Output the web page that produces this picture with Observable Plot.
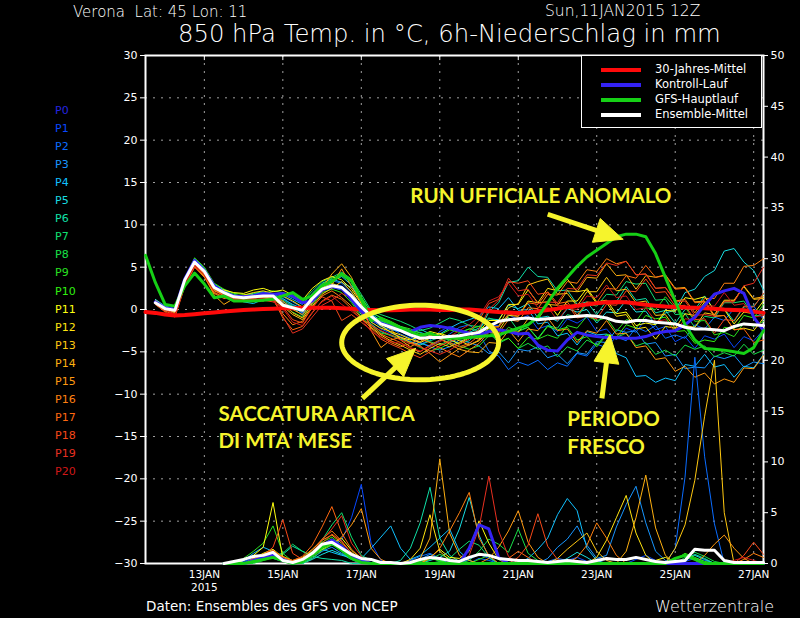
<!DOCTYPE html>
<html><head><meta charset="utf-8">
<script src="https://cdn.jsdelivr.net/npm/d3@7"></script>
<script src="https://cdn.jsdelivr.net/npm/@observablehq/plot@0.6"></script>
<style>
html,body{margin:0;padding:0;background:#000;}
#wrap{position:relative;width:800px;height:618px;background:#000;overflow:hidden;font-family:"DejaVu Sans",sans-serif;color:#fff;}
.t{position:absolute;white-space:pre;line-height:1;transform:translateY(-50%);}
.lg{position:absolute;height:4px;width:40px;left:601px;}
</style></head><body><div id="wrap"></div>
<script>
// ---------- DATA ----------
// time axis: 6-hourly steps from 11 JAN 2015 12Z (t=0)
const runStart = "2015-01-11T12:00Z";
const xEnd = "2015-01-27T06:00Z";
const gridDays = ["2015-01-13","2015-01-15","2015-01-17","2015-01-19","2015-01-21","2015-01-23","2015-01-25","2015-01-27"];
const tempTicks = [-30,-25,-20,-15,-10,-5,0,5,10,15,20,25,30];
const gridTemps = [-25,-20,-15,-10,-5,0,5,10,15,20,25];
const rainTicks = [0,5,10,15,20,25,30,35,40,45,50];

const memberNames = ["P1","P2","P3","P4","P5","P6","P7","P8","P9","P10","P11","P12","P13","P14","P15","P16","P17","P18","P19","P20"];
const memberColors = ["#0848ff","#0a6cff","#1896ff","#10c0ff","#18dde0","#10e0a8","#10e070","#18e048","#28e020","#30f010","#ffff10","#ffe410","#ffc810","#ffb010","#ff9a10","#ff8010","#ff6810","#f84818","#e83020","#d01818"];
const labelNames = ["P0"].concat(memberNames);
const labelColors = ["#2424e0"].concat(memberColors);

// 850 hPa temperature (°C); thick lines
const T_CLIM = [-0.3,-0.4,-0.6,-0.7,-0.65,-0.55,-0.45,-0.35,-0.25,-0.15,-0.05,0,0.05,0.1,0.15,0.15,0.2,0.2,0.2,0.2,0.15,0.1,0,-0.05,-0.1,-0.1,-0.05,0,0,0,-0.05,-0.05,0,0,-0.1,-0.2,-0.3,-0.35,-0.4,-0.35,-0.2,-0.05,0.1,0.3,0.45,0.6,0.75,0.85,0.9,0.85,0.7,0.55,0.45,0.35,0.3,0.25,0.2,0.15,0.1,0,-0.05,-0.1,-0.25,-0.4]; // t0..
const T_GFS = [6.4,3.2,0.6,0.4,2.8,4.3,3.0,1.4,1.6,1.0,1.0,1.0,1.1,1.2,1.6,2.0,1.2,1.6,2.8,3.3,4.2,3.4,1.2,-1.3,-1.1,-1.6,-2.2,-2.6,-3.1,-2.8,-3.3,-3.4,-3.4,-3.3,-3.2,-3.1,-3.0,-2.6,-2.2,-1.8,-0.9,0.8,2.5,3.8,5.1,6.2,7.0,7.8,8.6,8.9,8.9,8.6,6.6,3.8,1.0,-1.8,-3.6,-4.6,-4.7,-4.8,-5.0,-5.2,-4.5,-2.5]; // t0..
const T_CTRL = [0.9,0.2,0.0,3.6,5.8,4.6,2.8,2.0,1.6,1.5,1.6,1.9,1.8,1.9,1.6,0.8,1.0,2.3,2.7,2.5,1.2,-0.2,-1.2,-1.6,-2.0,-2.3,-2.6,-2.1,-1.9,-2.0,-2.2,-2.5,-2.8,-3.0,-2.6,-2.4,-2.6,-2.9,-2.8,-4.2,-4.8,-4.9,-3.6,-2.7,-3.0,-3.2,-3.3,-3.3,-3.4,-3.4,-3.2,-2.8,-2.6,-2.5,-1.8,-0.9,0.5,1.8,2.2,2.5,1.9,-0.9,-2.5]; // t1..
const T_MEAN = [0.8,0.1,-0.1,3.5,5.6,4.5,2.6,2.0,1.5,1.4,1.5,1.6,1.6,0.5,0.2,-0.1,1.3,2.4,2.8,2.6,1.6,0.3,-0.8,-1.7,-2.1,-2.5,-3.0,-3.4,-3.3,-3.3,-3.2,-3.1,-2.9,-2.7,-2.0,-1.4,-1.2,-1.1,-1.0,-1.2,-1.1,-1.0,-0.9,-0.8,-0.7,-0.8,-1.0,-1.4,-1.5,-1.3,-1.3,-1.5,-1.6,-1.7,-2.1,-2.3,-2.3,-2.4,-2.5,-2.0,-1.7,-1.8,-1.9]; // t1..

// 850 hPa temperature (°C); ensemble members, t1..t63
const T_P1 = [0.9,0.2,-0.1,3.5,5.8,4.7,2.7,2.1,1.6,1.3,1.6,1.8,1.4, 1.2,0.5,-0.5,1.0,2.6,3.0,2.8,1.4,-0.3, -1.4,-2.3,-2.8,-3.2,-3.8,-4.1,-3.6,-2.6,-2.0,-2.4,-3.0, -2.6,-1.8,-1.9,-0.6,-1.2,-0.7,-2.3,-1.9,-2.6,-1.1,-1.6,-0.9,-2.6,-2.3,-3.6,-2.2,-2.7,-1.1,-2.4,-2.0,-3.8,-3.2,-4.6,-3.1,-3.5,-2.9,-4.5,-3.2,-3.7,-2.4];
const T_P2 = [0.7,0.0,-0.3,3.2,5.5,4.4,2.4,1.9,1.4,1.5,1.3,1.5,1.7, 1.5,0.9,0.2,1.6,2.9,3.4,3.1,2.0,0.5, -0.6,-1.5,-2.2,-2.9,-3.4,-4.0,-4.3,-3.7,-2.9,-2.1,-1.8, -2.8,-4.9,-5.5,-7.1,-6.2,-6.6,-6.0,-7.1,-6.3,-6.7,-5.2,-5.5,-4.1,-4.5,-3.2,-3.7,-2.1,-2.6,-1.9,-3.4,-3.0,-3.4,-1.8,-2.3,-0.9,-1.3,0.1,-0.3,0.4,-1.2];
const T_P3 = [1.1,0.3,0.0,3.6,5.7,4.6,2.8,2.2,1.5,1.2,1.4,1.9,1.5, 0.9,0.3,-0.4,0.8,2.2,2.6,2.3,1.2,0.1, -1.2,-2.0,-2.4,-2.6,-3.2,-3.9,-4.4,-4.8,-4.4,-3.6,-3.9, -4.3,-5.2,-5.0,-6.3,-4.7,-4.9,-4.4,-5.7,-5.3,-6.4,-5.1,-5.3,-3.8,-3.9,-2.4,-2.7,-2.5,-4.1,-3.9,-5.5,-5.3,-7.0,-6.8,-6.9,-5.5,-5.8,-5.4,-6.8,-6.2,-6.4];
const T_P4 = [0.6,-0.1,-0.4,3.0,5.3,4.2,2.3,1.7,1.3,0.9,0.7,1.2,1.8, 1.8,1.2,0.6,1.9,3.1,3.6,3.2,2.6,1.4, -0.3,-1.0,-1.6,-2.0,-2.5,-2.7,-3.1,-2.9,-2.2,-1.6,-1.2, -0.8,0.3,0.1,1.4,-0.1,0.0,-1.7,-1.5,-3.1,-2.8,-4.2,-2.6,-3.0,-2.9,-5.2,-5.7,-7.9,-7.8,-8.6,-8.1,-8.4,-6.5,-6.7,-5.3,-6.8,-6.5,-8.0,-6.7,-6.9,-5.3];
const T_P5 = [1.2,0.4,0.1,3.7,6.0,4.9,3.0,2.3,1.7,1.6,1.8,2.0,1.7, 1.3,0.6,0.1,1.4,2.7,3.3,3.9,2.9,0.9, -0.5,-1.3,-1.9,-2.4,-2.8,-2.3,-2.9,-3.5,-3.9,-3.4,-2.7, -2.2,-1.1,-1.2,0.5,0.1,0.7,-1.0,-0.8,-1.4,0.1,-0.3,0.0,-1.6,-0.3,-0.4,1.1,-0.3,-0.2,-1.8,-0.4,-0.1,2.0,2.4,3.9,4.6,6.9,7.2,5.6,4.6,2.3];
const T_P6 = [0.8,0.0,-0.2,3.3,5.6,4.5,2.5,1.8,1.6,1.4,1.5,1.4,1.3, 0.7,0.2,-0.7,0.9,2.3,2.8,2.4,1.0,-0.6, -1.7,-2.6,-3.1,-3.5,-3.8,-4.2,-3.7,-3.3,-3.6,-4.0,-3.7, -2.6,-0.3,0.8,3.2,3.4,5.0,3.9,3.8,2.2,2.3,0.6,0.9,-0.6,1.0,0.9,2.7,1.1,1.3,-0.4,-0.1,-1.6,0.0,0.0,1.6,-0.1,0.1,-1.4,0.3,0.4,1.8];
const T_P7 = [0.9,0.1,-0.3,3.4,5.7,4.8,2.9,2.0,1.4,1.7,1.9,2.1,1.8, 1.9,1.4,0.9,2.2,3.3,3.8,4.4,3.6,1.8, -0.1,-0.6,-1.0,-1.4,-1.9,-2.5,-2.2,-1.6,-1.0,-1.3,-1.9, -2.0,-1.0,-1.4,-0.9,-2.5,-2.1,-3.4,-1.9,-2.2,-0.6,-0.9,0.7,0.4,1.8,1.7,3.3,3.0,3.1,1.1,1.2,-0.6,-0.5,-2.1,-0.8,-1.0,0.8,0.8,1.0,-0.8,-0.6];
const T_P8 = [1.0,0.2,0.0,3.5,5.9,4.7,2.6,2.1,1.8,1.5,1.4,1.6,1.9, 1.1,0.4,-0.2,1.3,2.8,3.5,4.0,3.2,1.1, -0.8,-1.4,-1.8,-2.1,-2.6,-3.2,-3.8,-4.2,-3.6,-2.8,-2.3, -2.5,-2.5,-4.0,-3.4,-4.6,-4.0,-4.7,-4.3,-5.6,-4.4,-4.9,-3.6,-4.2,-2.9,-3.3,-2.8,-4.3,-3.9,-5.3,-4.8,-5.5,-4.2,-4.7,-4.3,-5.6,-5.1,-5.5,-4.1,-5.3,-4.8];
const T_P9 = [0.7,0.1,-0.2,3.1,5.4,4.3,2.4,1.6,1.5,1.3,1.2,1.7,1.6, 0.5,-0.3,-0.9,0.6,2.0,2.4,2.0,0.8,-0.9, -1.9,-2.8,-3.0,-3.4,-3.9,-4.5,-4.9,-4.6,-4.0,-4.3,-4.7, -4.3,-3.1,-3.4,-2.1,-2.6,-2.1,-3.5,-3.0,-3.4,-1.9,-2.2,-0.8,-1.3,-1.0,-2.6,-1.2,-1.4,0.2,0.0,1.5,0.2,0.3,-1.4,-1.3,-3.0,-2.7,-3.2,-1.6,-2.0,-1.4];
const T_P10 = [0.9,0.0,-0.1,3.6,6.1,5.0,3.1,2.4,1.9,1.8,1.6,1.9,2.2, 2.0,1.5,0.8,1.8,3.0,3.7,4.1,3.3,1.5, -0.4,-0.9,-1.4,-2.0,-2.3,-2.8,-3.3,-3.0,-2.4,-2.7,-2.3, -2.0,-2.3,-3.8,-3.4,-4.6,-3.3,-3.5,-2.0,-2.4,-2.1,-3.6,-3.2,-4.4,-3.0,-3.3,-1.8,-2.2,-0.7,-1.1,-0.9,-2.6,-2.5,-4.0,-3.6,-3.8,-2.1,-2.3,-0.7,-1.0,0.6];
const T_P11 = [1.1,0.3,-0.2,3.3,5.5,4.4,2.6,2.3,2.0,1.9,2.3,2.5,2.1, 2.3,1.7,1.1,2.5,3.4,3.9,3.5,2.4,0.7, -1.0,-1.9,-2.7,-3.3,-3.6,-3.2,-2.6,-2.9,-3.5,-4.1,-3.3, -2.6,-1.3,-1.3,0.6,0.6,2.3,0.8,0.9,-0.7,1.0,1.0,2.5,0.9,1.1,-0.5,-0.3,-1.9,-1.6,-1.8,-0.1,-0.2,1.4,1.2,1.5,-0.1,0.0,-1.7,-0.3,-0.5,1.0];
const T_P12 = [0.8,0.1,-0.4,3.0,5.2,4.1,2.2,1.8,1.6,1.7,2.0,2.2,1.9, 1.6,1.0,0.3,1.5,2.6,3.1,2.6,1.7,0.2, -1.5,-2.2,-2.6,-3.0,-3.5,-3.9,-3.4,-2.8,-3.2,-3.7,-4.2, -3.7,-2.5,-2.5,-0.7,-0.8,1.0,0.8,2.5,2.2,3.6,2.1,2.3,0.7,0.8,-0.8,-0.6,-2.3,-2.1,-3.5,-2.0,-2.2,-0.5,-0.7,0.9,-0.8,-0.7,-2.4,-2.2,-2.5,-1.0];
const T_P13 = [0.6,-0.2,-0.5,2.9,5.1,3.9,2.0,1.5,1.2,1.0,1.1,1.3,1.2, 0.4,-0.6,-1.2,0.4,1.8,2.5,3.3,2.1,0.3, -2.1,-3.0,-3.7,-4.2,-4.8,-5.3,-4.6,-4.0,-4.4,-3.9,-3.2, -3.5,-2.2,-2.0,0.2,0.7,2.9,3.3,3.6,1.8,1.9,0.4,2.1,2.1,3.8,2.2,2.4,0.8,1.0,-0.7,-0.6,-2.2,-1.9,-2.1,-0.4,-0.6,1.1,1.1,2.7,1.2,1.3];
const T_P14 = [0.9,0.0,-0.6,3.2,5.4,4.0,1.7,0.6,1.3,1.4,1.2,1.0,1.5, 0.8,-0.4,-1.0,0.7,2.5,4.2,5.4,3.8,1.2, -0.9,-1.6,-2.3,-3.6,-4.4,-3.8,-3.0,-3.4,-4.1,-4.7,-5.0, -5.1,-3.9,-4.0,-2.5,-2.7,-1.1,-1.2,0.6,0.5,2.2,2.1,3.8,3.7,5.4,4.0,4.1,2.4,4.0,3.8,4.1,2.5,2.6,0.9,1.0,-0.7,1.0,1.0,2.8,1.3,1.5];
const T_P15 = [1.0,0.2,-0.3,3.4,5.6,4.6,2.5,1.9,1.6,1.3,1.6,1.8,1.6, 1.0,0.0,-0.6,0.9,2.1,2.9,4.8,2.7,0.8, -2.5,-4.5,-3.6,-3.3,-3.9,-4.3,-5.2,-6.2,-5.4,-4.6,-4.2, -3.6,-2.5,-2.9,-2.4,-3.8,-2.3,-2.5,-1.0,-2.5,-2.3,-3.9,-2.5,-2.8,-1.3,-2.9,-2.8,-4.5,-4.3,-5.9,-5.7,-7.3,-6.7,-8.0,-7.5,-8.8,-8.2,-8.6,-6.9,-7.0,-5.4];
const T_P16 = [0.7,-0.1,-0.8,2.8,5.0,3.8,1.9,1.3,1.5,1.6,1.7,1.4,1.1, -0.5,-1.8,-1.4,0.2,1.6,2.2,1.4,0.4,-1.0, -2.2,-3.2,-3.9,-4.4,-4.0,-3.5,-3.9,-4.5,-5.1,-5.6,-4.8, -4.0,-2.7,-2.8,-1.2,-1.4,0.2,0.1,1.8,1.7,3.3,3.1,4.7,4.5,6.0,5.4,5.7,4.1,4.2,2.5,2.6,1.0,1.2,-0.4,1.3,1.3,3.1,3.1,5.1,5.2,6.0];
const T_P17 = [0.8,0.0,-0.7,3.1,5.3,4.2,2.3,1.6,1.1,1.2,1.4,1.5,1.3, -1.0,-2.4,-2.0,-0.4,1.0,1.7,1.2,0.1,-1.2, -1.8,-2.9,-3.4,-3.9,-4.6,-5.0,-4.2,-3.6,-3.9,-4.4,-4.0, -3.1,-1.9,-2.1,-0.5,-0.8,0.8,0.6,2.1,0.7,0.9,-0.7,0.9,0.8,2.5,2.4,4.0,3.7,5.2,3.8,4.0,2.4,2.5,0.8,0.9,-0.8,-0.7,-2.4,-2.3,-3.9,-3.6];
const T_P18 = [0.6,-0.3,-0.9,2.7,5.0,4.1,2.4,1.8,1.3,1.1,1.3,1.1,0.9, 0.3,-1.2,-1.6,0.3,1.5,1.0,-1.3,-0.6,-1.5, -2.4,-3.5,-4.1,-4.6,-5.2,-5.7,-5.0,-4.3,-3.8,-3.4,-2.6, -1.3,0.7,1.2,3.3,3.1,3.4,1.8,2.0,0.4,0.6,-1.0,-0.8,-1.1,0.6,0.5,2.2,2.1,3.6,2.0,2.1,0.4,0.5,-1.2,-1.1,-2.8,-1.2,-1.3,0.4,0.3,1.9];
const T_P19 = [0.9,0.1,-0.5,3.0,5.3,4.3,2.6,1.7,1.4,1.5,1.5,1.7,1.4, -0.8,-2.8,-2.3,-0.9,0.5,1.1,1.9,1.3,-0.4, -1.9,-2.5,-3.0,-3.6,-4.0,-4.4,-4.9,-5.3,-4.8,-4.1,-3.5, -2.3,0.0,1.1,3.7,2.2,2.4,0.7,0.9,0.8,2.5,2.4,4.1,4.0,5.5,5.2,5.7,4.1,4.2,2.5,2.6,0.9,1.0,-0.7,-0.6,-0.8,0.9,0.9,2.8,3.1,5.0];
const T_P20 = [0.7,-0.1,-0.6,2.9,5.2,4.0,2.1,1.5,1.2,1.3,1.2,1.3,1.0, 0.1,-1.5,-1.9,-0.3,0.9,1.6,0.6,-0.2,-1.1, -2.6,-3.3,-3.8,-4.0,-4.5,-4.9,-4.4,-3.8,-3.2,-2.5,-1.8, -0.8,1.0,1.5,3.1,1.6,1.8,0.2,0.3,-1.3,0.2,0.0,1.6,1.4,2.9,1.4,1.6,0.0,0.2,-1.4,-1.2,-2.7,-1.1,-1.2,0.5,0.4,2.0,0.5,0.7,-0.9,-0.7];

// 6h precipitation (mm), t8..t63
const R_GFS  = [0,0,0,0.2,0.4,0.6,0.3,0, 0.2,0.8,1.6,2.0,1.3,0.5,0.1,0, 0,0,0,0,0,0,0,0, 0,0,0,0,0,0,0,0, 0,0,0,0,0,0,0,0, 0,0,0,0,0,0,0.5,0.8, 0.4,0,0,0,0,0,0,0];
const R_CTRL = [0,0,0,0.3,0.6,0.9,0.4,0, 0.3,0.9,1.8,2.3,1.7,0.8,0.3,0, 0,0,0,0,0,0,0,0, 0,1.5,3.8,3.4,0.6,0,0,0, 0,0,0,0,0,0,0,0, 0,0,0,0,0,0,0,0, 0,0,0,0,0,0,0,0];
const R_MEAN = [0,0.2,0.4,0.7,0.8,1.1,0.3,0.1, 0.4,1.0,1.9,2.1,1.5,0.9,0.5,0.4, 0.1,0.1,0,0.1,0.4,0.6,0.5,0.3, 0.2,0.6,0.9,0.8,0.5,0.4,0.3,0.3, 0.2,0.1,0.2,0.3,0.2,0.1,0.3,0.5, 0.4,0.4,0.6,0.4,0.2,0.1,0.2,0.3, 1.4,1.3,1.3,0.3,0.1,0.1,0.1,0.1];
const R_P1  = [0,0,0.3,0.6,0.8,1.2,0.4,0, 0.2,0.8,1.5,1.9,2.3,4.5,7.8,2.0, 0.3,0,0,0,0.2,0.5,0.3,0, 0,0.4,0.9,0.5,0,0,0,0, 0,0,0,0.3,0.6,0.2,0,0, 0,0,0.4,0.8,0.3,0,0,0.2, 0.5,0.3,0,0,0,0,0,0];
const R_P2  = [0,0,0.2,0.5,0.9,1.0,0.3,0, 0,0.6,1.8,2.2,1.6,0.8,0.3,0, 0,0,0,0.3,0.7,1.0,0.5,0.2, 0,0,0.5,0.3,0,0,0,0, 0,0.2,0.5,0.3,0,0,0,0, 0,0,0,0,0,0,1.5,8.5, 20.3,10.5,3.9,0,0,0,0,0];
const R_P3  = [0,0,0,0.4,0.7,0.5,0.2,0, 0,0.5,1.2,1.6,1.0,0.5,0.2,0, 0,0,0,0,0.4,0.9,0.4,0, 0,0,0,0,0,0,0,0, 0,0.5,1.6,2.4,3.7,1.8,0.5,0.8, 3.6,5.8,7.6,4.0,1.2,0.3,0,0, 0,0,0,0,0,0,0,0];
const R_P4  = [0,0,0.3,1.0,1.6,1.2,0.5,0.2, 0.5,1.0,1.4,1.1,0.8,0.6,0.5,1.5, 2.6,3.7,1.5,0.4,0.8,1.6,2.5,3.4, 1.2,0.3,0,0,0,0,0,0.5, 1.4,2.5,4.8,6.4,5.2,1.5,0.3,0, 0,0,0,0,0,0,0,0, 0,0,0,0,0,0,0,0];
const R_P5  = [0,0,0,0.2,0.5,0.8,0.3,0, 0,0.4,0.9,1.3,0.9,0.4,0,0, 0,0,0,0,0,0.3,0.6,1.2, 3.4,6.5,2.8,0.6,0,0,0,0, 0,0,0,0.5,1.1,0.6,0,0, 0,0,0,0,0,0,0,0.3, 0.8,0.4,0,0,0,0,0,0];
const R_P6  = [0,0,0,0.3,0.5,0.6,0.9,1.7, 1.2,0.7,0.5,0.4,0.3,0,0,0, 0,0,0.3,1.5,4.0,7.5,2.5,0.8, 0.2,0,0,0,0,0,0,0, 0,0,0,0,0,0,0,0, 0,0,0,0,0,0,0,0.4, 0.9,0.5,0,0,0,0,0,0];
const R_P7  = [0,0,0,0.2,0.4,0.8,1.0,1.9, 1.2,0.8,2.3,3.8,5.0,2.6,0.8,0.3, 0,0,0,0,0,0,0.2,0.5, 1.4,2.2,1.8,0.6,0,0,0,0, 0,0,0,0,0,0,0,0, 0,0,0,0,0,0,0,0, 0,0,0,0,0,0,0,0];
const R_P8  = [0,0,0,0,0.3,0.6,0.4,0, 0,0.5,1.3,1.8,1.5,0.6,0.2,0, 0,0,0,0,0,0.4,0.9,0.5, 0,0.3,1.2,2.4,1.9,1.1,3.4,1.0, 0.3,0,0,0,0,0,0,0, 0,0,0,0,0,0,0,0.6, 1.1,0.7,0.2,0,0,0,0,0];
const R_P9  = [0,0,0.5,1.2,2.0,3.7,1.0,0.2, 0.3,0.9,1.6,2.0,1.4,0.7,0.3,0, 0,0,0,0,0.3,0.6,0.2,0, 0,0,0.4,0.8,0.4,0,0,0, 0,0,0,0,0,0,0,0, 0,0,0,0,0,0,0,0, 0,0,0,0,0,0,0,0];
const R_P10 = [0,0,0,0.4,0.8,1.1,0.6,0, 0.4,1.2,2.1,2.6,1.8,0.9,0.3,0, 0,0,0,0,0.2,0.5,0.3,0, 0,0,0,0,0,0,0,0, 0,0,0,0,0,0,0,0, 0,0,0,0,0,0,0.4,1.0, 0.6,0.2,0,0,0,0,0,0];
const R_P11 = [0,0,0.3,0.8,1.6,6.0,0.5,0, 0.2,0.7,1.4,1.9,2.5,1.3,0.5,0, 0,0,0,0,0,0.6,1.4,0.6, 0.5,1.2,4.2,2.0,0.4,0,0,0, 0,0,0,0,0,0,0,0, 0,0,0,0,0.3,0.6,0.2,0, 0,0,0,0,0,0,0,0];
const R_P12 = [0,0,0,0.5,1.0,1.4,0.6,0.2, 0.5,1.1,1.9,2.4,1.7,0.8,0.3,0, 0,0,0,0.4,1.5,4.8,1.2,0.3, 0,0,0,0,0,0,0,0, 0,0,0,0,0,0,0.6,2.3, 4.5,6.7,3.0,0.8,0,0,0,0, 0,0,0,0,0,0,0,0];
const R_P13 = [0,0,0,0.3,0.7,0.9,0.4,0, 0.3,0.9,1.7,2.1,1.5,0.7,0.2,0, 0,0,0,0,0,0,0,0, 0,0,0,0,0,0,0,0, 0,0,0.5,1.4,2.2,3.0,1.2,0.3, 0,0,0,0,0,0,1.5,3.8, 8.2,14.5,20.0,5.0,0,0,0,0];
const R_P14 = [0,0,0,0.4,0.9,1.2,0.7,0.3, 0.6,1.4,2.3,2.8,2.0,1.1,0.4,0, 0,0,0,0,0.5,2.5,10.3,3.0, 0.8,0.3,0,0,0,0,0,0, 0,0,0,0,0,0,0,0, 0,1.2,4.5,8.7,3.5,0.8,0,0, 0,0,0,0,0,0,0,0];
const R_P15 = [0,0,0,0.2,0.6,0.8,0.5,0, 0.3,0.8,1.5,1.9,2.6,3.8,5.4,1.5, 0.4,0,0,0,0,0,0,0, 0,0,0,0.5,1.6,3.2,5.2,2.1, 0.6,0,0,0,0,0,0,0, 0,0,0,0,0,0,0,0, 0,0.8,1.9,2.8,1.5,0.5,0,0];
const R_P16 = [0,0,0,0.3,0.6,1.0,0.5,0.2, 0.5,1.3,2.4,3.2,2.2,1.0,0.3,0, 0,0,0,0,0,0.5,1.5,3.2, 5.0,7.0,2.5,0.8,0,0,0,0, 0,0,0,0,0.6,1.8,4.0,2.5, 0.8,0,0,0,0,0,0,0, 0,0,0,0,0,0.4,1.0,0.6];
const R_P17 = [0,0,0,0.5,0.9,1.3,0.6,0.3, 0.7,1.8,3.6,5.6,3.0,1.4,0.5,0, 0,0,0,0,0,0,0,0, 0,0,0,0,0,0.5,1.2,0.6, 0,0,0,0,0,0,0,0, 0,0,0,0,0,0,0,0, 0,0,0,0,0,0,0,0];
const R_P18 = [0,0,0,0.3,0.8,1.6,4.3,1.0, 0.4,1.0,2.0,2.9,2.2,1.0,0.4,0, 0,0,0,0,0,0,0,0, 0,0,0,0,0,0,0.6,1.8, 4.9,1.7,0.4,0,0,0,0,0, 0,0,0,0,0,0,0,0, 0,0,0,0,0,0.8,2.1,0.9];
const R_P19 = [0,0,0,0.2,0.5,0.8,0.4,0, 0.4,1.1,2.3,3.4,4.7,2.0,0.7,0, 0,0,0,0,0,0,0,0, 0,0.8,3.5,8.6,3.2,0.7,0,0, 0,0,0,0,0,0,0,0, 0,0,0,0,0,0,0,0, 0,0,0,0,0,0,0,0];
const R_P20 = [0,0,0,0.3,0.6,0.9,0.5,0, 0.3,0.9,1.6,2.2,1.5,0.7,0.2,0, 0,0,0,0,0,0,0,0, 0,0,0,0,0,0,0,0, 0,0,0,0,0,0,0,0, 0,0,0,0,0,0,0,0, 0,0,0,0,0.3,0.6,0.3,0];

// annotations (yellow), positions in data coordinates
const annoTexts = ["RUN UFFICIALE ANOMALO","SACCATURA ARTICA","DI MTA' MESE","PERIODO","FRESCO"];
const annoDates = ["2015-01-18T06:00Z","2015-01-13T08:40Z","2015-01-13T08:40Z","2015-01-22T06:00Z","2015-01-22T06:00Z"];
const annoTemps = [13.4,-12.35,-15.55,-12.95,-16.3];
const arrowTailDates = ["2015-01-21T18:00Z","2015-01-17T00:40Z","2015-01-23T03:10Z"];
const arrowTailTemps = [11.25,-10.5,-10.5];
const arrowTipDates = ["2015-01-23T16:00Z","2015-01-18T09:10Z","2015-01-23T08:05Z"];
const arrowTipTemps = [8.3,-4.6,-3.0];
const ellipseCenter = ["2015-01-18T12:00Z", -3.9];
const ellipseRadius = [48, 4.4]; // hours, °C

// ---------- BUILD ----------
const W = 800, H = 618, ML = 145, MR = 37, MT = 55, MB = 55;
const YEL = "#f6f42c";
const T0 = new Date(runStart).getTime();
const H6 = 6 * 3600e3;
const at = t => new Date(T0 + t * H6);
const rows = (arr, t0) => arr.map((v, i) => ({date: at(t0 + i), v}));
const mmToY = mm => -30 + mm * 60 / 50;
const rainRows = (arr, t0) => arr.map((mm, i) => ({date: at(t0 + i), v: mmToY(mm)}));

const memberTemps = [T_P1,T_P2,T_P3,T_P4,T_P5,T_P6,T_P7,T_P8,T_P9,T_P10,T_P11,T_P12,T_P13,T_P14,T_P15,T_P16,T_P17,T_P18,T_P19,T_P20];
const memberRain = [R_P1,R_P2,R_P3,R_P4,R_P5,R_P6,R_P7,R_P8,R_P9,R_P10,R_P11,R_P12,R_P13,R_P14,R_P15,R_P16,R_P17,R_P18,R_P19,R_P20];

const xDomain = [new Date(runStart), new Date(xEnd)];
const xs = Plot.scale({x: {type: "utc", domain: xDomain, range: [ML, W - MR]}});
const ys = Plot.scale({y: {type: "linear", domain: [-30, 30], range: [H - MB, MT]}});

const shafts = [], heads = [];
arrowTailDates.forEach((d, i) => {
  const tx = xs.apply(new Date(d)), ty = ys.apply(arrowTailTemps[i]);
  const px = xs.apply(new Date(arrowTipDates[i])), py = ys.apply(arrowTipTemps[i]);
  const L = Math.hypot(px - tx, py - ty), ux = (px - tx) / L, uy = (py - ty) / L;
  const hl = 28, hw = 12.5;
  const bx = px - ux * hl, by = py - uy * hl;
  const nx = -uy, ny = ux;
  shafts.push({x1: new Date(d), y1: arrowTailTemps[i], x2: xs.invert(bx + ux * 3), y2: ys.invert(by + uy * 3)});
  [[px, py], [bx + nx * hw, by + ny * hw], [bx - nx * hw, by - ny * hw], [px, py]].forEach(([a, b]) =>
    heads.push({id: i, date: xs.invert(a), v: ys.invert(b)}));
});
const ell = [];
const ec = new Date(ellipseCenter[0]).getTime();
for (let k = 0; k <= 96; k++) {
  const th = 2 * Math.PI * k / 96;
  ell.push({date: new Date(ec + ellipseRadius[0] * 3600e3 * Math.cos(th)), v: ellipseCenter[1] + ellipseRadius[1] * Math.sin(th)});
}
const annos = annoTexts.map((s, i) => ({text: s, date: new Date(annoDates[i]), v: annoTemps[i]}));
const gridDates = gridDays.map(s => new Date(s + "T00:00Z"));

const marks = [
  Plot.ruleY(gridTemps, {stroke: "#a0a0a0", strokeDasharray: "2,6", strokeWidth: 1}),
  Plot.ruleX(gridDates, {stroke: "#a0a0a0", strokeDasharray: "2,6", strokeWidth: 1}),
  Plot.frame({stroke: "#fff", strokeWidth: 2}),
  Plot.ruleX(gridDates, {y1: 30, y2: 29.4, stroke: "#fff", strokeWidth: 1})
];
memberTemps.forEach((arr, i) => marks.push(Plot.line(rows(arr, 1), {x: "date", y: "v", stroke: memberColors[i], strokeWidth: 1})));
memberRain.forEach((arr, i) => marks.push(Plot.line(rainRows(arr, 8), {x: "date", y: "v", stroke: memberColors[i], strokeWidth: 1})));
marks.push(
  Plot.line(rows(T_CLIM, 0), {x: "date", y: "v", stroke: "#ff0a0a", strokeWidth: 4}),
  Plot.line(rows(T_CTRL, 1), {x: "date", y: "v", stroke: "#3422f4", strokeWidth: 3}),
  Plot.line(rainRows(R_CTRL, 8), {x: "date", y: "v", stroke: "#3422f4", strokeWidth: 3}),
  Plot.line(rows(T_GFS, 0), {x: "date", y: "v", stroke: "#16d016", strokeWidth: 3}),
  Plot.line(rainRows(R_GFS, 8), {x: "date", y: "v", stroke: "#16d016", strokeWidth: 3}),
  Plot.line(rows(T_MEAN, 1), {x: "date", y: "v", stroke: "#ffffff", strokeWidth: 3}),
  Plot.line(rainRows(R_MEAN, 8), {x: "date", y: "v", stroke: "#ffffff", strokeWidth: 3}),
  Plot.axisY(tempTicks, {anchor: "left", tickSize: 5, tickPadding: 3, label: null, fontSize: 11}),
  Plot.axisY(rainTicks.map(mmToY), {anchor: "right", tickSize: 4, tickPadding: 3, label: null, fontSize: 11,
    tickFormat: d => String(Math.round((d + 30) * 50 / 60))}),
  Plot.axisX(gridDates, {anchor: "bottom", tickSize: 0, tickPadding: 7, label: null, fontSize: 10.5,
    tickFormat: d => d3.utcFormat("%d%b")(d).toUpperCase()}),
  Plot.text([gridDates[0]], {x: d => d, frameAnchor: "bottom", dy: 27, text: () => "2015", fill: "#fff", fontSize: 10.5}),
  Plot.line(ell, {x: "date", y: "v", stroke: YEL, strokeWidth: 5}),
  Plot.link(shafts, {x1: "x1", y1: "y1", x2: "x2", y2: "y2", stroke: YEL, strokeWidth: 5}),
  Plot.line(heads, {x: "date", y: "v", z: "id", fill: YEL, stroke: YEL, strokeWidth: 1}),
  Plot.text(annos, {x: "date", y: "v", text: "text", fill: YEL, textAnchor: "start", fontFamily: "Lato", fontWeight: "bold", fontSize: 20.5})
);

const chart = Plot.plot({
  width: W, height: H, marginLeft: ML, marginRight: MR, marginTop: MT, marginBottom: MB,
  x: {type: "utc", domain: xDomain, label: null},
  y: {domain: [-30, 30], label: null},
  style: {background: "#000", color: "#fff", fontFamily: "DejaVu Sans", fontSize: "11px"},
  marks
});
const wrap = document.getElementById("wrap");
chart.style.position = "absolute"; chart.style.left = "0"; chart.style.top = "0";
wrap.appendChild(chart);

function addText(txt, left, y, size, color, extra) {
  const d = document.createElement("div");
  d.className = "t"; d.textContent = txt;
  d.style.left = left + "px"; d.style.top = y + "px"; d.style.fontSize = size + "px"; d.style.color = color || "#fff";
  if (extra) Object.assign(d.style, extra);
  wrap.appendChild(d); return d;
}
addText("Verona  Lat: 45 Lon: 11", 73, 12, 15, "#fff", {fontWeight: 300});
addText("Sun,11JAN2015 12Z", 545, 12, 15.5, "#fff", {fontWeight: 300});
addText("850 hPa Temp. in °C, 6h-Niederschlag in mm", 178, 34, 24.3, "#fff", {fontWeight: 200, lineHeight: 0.9});
addText("Daten: Ensembles des GFS von NCEP", 146, 607, 13.5, "#fff");
addText("Wetterzentrale", 655, 607, 16, "#fff", {fontWeight: 300});
labelNames.forEach((n, i) => addText(n, 55, 110 + 18.05 * i, 11, labelColors[i]));

const box = document.createElement("div");
Object.assign(box.style, {position: "absolute", left: "581px", top: "55px", width: "181px", height: "73px", border: "1.5px solid #fff", background: "#000", boxSizing: "border-box"});
wrap.appendChild(box);
const legNames = ["30-Jahres-Mittel", "Kontroll-Lauf", "GFS-Hauptlauf", "Ensemble-Mittel"];
const legColors = ["#ff0a0a", "#3422f4", "#16d016", "#ffffff"];
legNames.forEach((n, i) => {
  const y = 70 + 15 * i;
  const l = document.createElement("div"); l.className = "lg";
  l.style.top = (y - 2) + "px"; l.style.background = legColors[i];
  wrap.appendChild(l);
  addText(n, 655, y, 11.5, "#fff");
});
</script></body></html>
